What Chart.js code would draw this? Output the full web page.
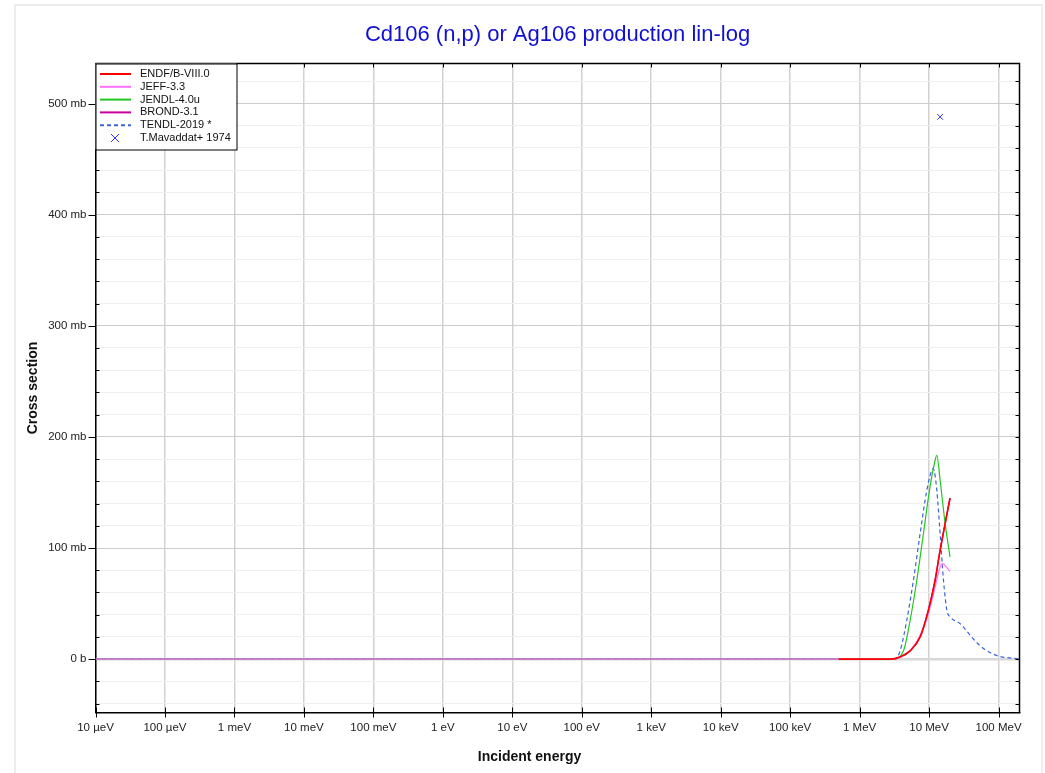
<!DOCTYPE html>
<html lang="en">
<head>
<meta charset="UTF-8">
<title>Cd106 (n,p) or Ag106 production lin-log</title>
<script src="https://cdn.jsdelivr.net/npm/chart.js@4.4.0/dist/chart.umd.min.js"></script>
<style>body{margin:0;background:#fff}</style>
</head>
<body>
<canvas id="myChart" width="1045" height="773"></canvas>
<script>
// energies in eV, cross sections in mb
const endfE = [5e5, 2.75e6, 3.82e6, 5.33e6, 7.42e6, 9.77e6, 12.2e6, 14.4e6, 17.0e6, 20e6];
const endfXs = [0, 0, 2, 7.5, 20, 44, 71, 98, 122, 145];

const jeffE = [1e-5, 3.0e6, 4.27e6, 5.94e6, 7.85e6, 9.77e6, 12.2e6, 14.4e6, 15.7e6, 17.6e6, 20e6];
const jeffXs = [0, 0, 3, 11, 24.6, 41, 65, 83, 86, 83, 79];

const jendlE = [1e-5, 3.0e6, 4.27e6, 5.33e6, 6.65e6, 8.28e6, 10.3e6, 12.2e6, 12.9e6, 14.4e6, 17.0e6, 20e6];
const jendlXs = [0, 0, 7.5, 35, 71, 113, 155, 179, 183.5, 161, 122, 92];

const brondE = [1e-5, 2.75e6, 3.82e6, 5.33e6, 7.42e6, 9.77e6, 12.2e6, 14.4e6, 17.0e6, 20e6];
const brondXs = [0, 0, 2, 7.5, 20, 44, 71, 98, 122, 145];

const tendlE = [1e-5, 3.24e6, 3.82e6, 4.77e6, 5.94e6, 7.42e6, 9.27e6, 10.9e6, 11.5e6, 12.9e6, 14.4e6,
                16.1e6, 18.0e6, 20.1e6, 27.9e6, 31e6, 45e6, 60.5e6, 100e6, 150e6, 200e6];
const tendlXs = [0, 0, 7.5, 35, 71, 113, 152, 170, 171.5, 152, 113,
                 71, 44, 38, 32, 29, 17, 9.6, 2.7, 1, 0.3];

const expE = [14.4e6];
const expXs = [488];

const xTickValues = [1e-5, 1e-4, 1e-3, 1e-2, 1e-1, 1, 10, 100, 1e3, 1e4, 1e5, 1e6, 1e7, 1e8];
const xTickLabels = ['10 µeV', '100 µeV', '1 meV', '10 meV', '100 meV', '1 eV', '10 eV',
                     '100 eV', '1 keV', '10 keV', '100 keV', '1 MeV', '10 MeV', '100 MeV'];
const yTickValues = [0, 100, 200, 300, 400, 500];
const yTickLabels = ['0 b', '100 mb', '200 mb', '300 mb', '400 mb', '500 mb'];

const FONT = '"Liberation Sans", Arial, sans-serif';
Chart.defaults.font.family = FONT;

function pts(e, v) {
    return e.map((x, i) => ({x: x, y: v[i]}));
}

const series = [
    {label: 'ENDF/B-VIII.0', data: pts(endfE, endfXs), borderColor: '#ff0000', borderWidth: 1.6},
    {label: 'JEFF-3.3', data: pts(jeffE, jeffXs), borderColor: '#ff70ff', borderWidth: 1.2},
    {label: 'JENDL-4.0u', data: pts(jendlE, jendlXs), borderColor: '#22c822', borderWidth: 1.2},
    {label: 'BROND-3.1', data: pts(brondE, brondXs), borderColor: '#c8009c', borderWidth: 1.4},
    {label: 'TENDL-2019 *', data: pts(tendlE, tendlXs), borderColor: '#3c64dc', borderWidth: 1.2, borderDash: [4, 3]},
];

const datasets = series.map(s => Object.assign({
    pointRadius: 0,
    fill: false,
    cubicInterpolationMode: 'monotone'
}, s));

datasets.push({
    label: 'T.Mavaddat+ 1974',
    data: pts(expE, expXs),
    showLine: false,
    pointStyle: 'crossRot',
    pointRadius: 4,
    borderColor: '#3030ff',
    borderWidth: 1,
    backgroundColor: '#3030ff'
});

const decorations = {
    id: 'decorations',
    beforeDraw(chart) {
        const ctx = chart.ctx;
        ctx.save();
        ctx.fillStyle = '#fff';
        ctx.fillRect(0, 0, chart.width, chart.height);
        ctx.strokeStyle = '#ededed';
        ctx.lineWidth = 2;
        ctx.strokeRect(15, 5, 1027, 800);
        ctx.restore();
    },
    afterDraw(chart) {
        const ctx = chart.ctx;
        const a = chart.chartArea;
        const x = chart.scales.x, y = chart.scales.y;
        ctx.save();

        // frame top/right
        ctx.strokeStyle = '#000';
        ctx.lineWidth = 1.5;
        ctx.beginPath();
        ctx.moveTo(a.left, a.top); ctx.lineTo(a.right, a.top); ctx.lineTo(a.right, a.bottom);
        ctx.stroke();

        // tick marks
        ctx.lineWidth = 1;
        ctx.beginPath();
        for (let v = -40; v <= 520; v += 20) {
            const py = Math.round(y.getPixelForValue(v)) + 0.5;
            if (v % 100 === 0) {
                ctx.moveTo(a.left - 7, py); ctx.lineTo(a.left, py);
            } else {
                ctx.moveTo(a.left, py); ctx.lineTo(a.left + 4, py);
            }
            ctx.moveTo(a.right - 4, py); ctx.lineTo(a.right, py);
        }
        xTickValues.forEach(v => {
            const px = Math.round(x.getPixelForValue(v)) + 0.5;
            ctx.moveTo(px, a.bottom - 5); ctx.lineTo(px, a.bottom + 5);
            ctx.moveTo(px, a.top); ctx.lineTo(px, a.top + 4);
        });
        ctx.stroke();

        // title
        ctx.fillStyle = '#1010d0';
        ctx.font = '22px ' + FONT;
        ctx.textAlign = 'center';
        ctx.textBaseline = 'middle';
        ctx.fillText('Cd106 (n,p) or Ag106 production lin-log', (a.left + a.right) / 2, 35);

        // axis titles
        ctx.fillStyle = '#111';
        ctx.font = 'bold 14px ' + FONT;
        ctx.fillText('Incident energy', 529.5, 757);
        ctx.save();
        ctx.translate(33, (a.top + a.bottom) / 2);
        ctx.rotate(-Math.PI / 2);
        ctx.fillText('Cross section', 0, 0);
        ctx.restore();

        // legend
        const lx = a.left, ly = a.top, lw = 141, lh = 86;
        ctx.fillStyle = '#fff';
        ctx.fillRect(lx, ly, lw, lh);
        ctx.strokeStyle = '#000';
        ctx.lineWidth = 1;
        ctx.strokeRect(lx + 0.5, ly + 0.5, lw, lh);
        ctx.font = '11px ' + FONT;
        ctx.textAlign = 'left';
        chart.data.datasets.forEach((ds, i) => {
            const ry = 74 + i * 12.8;
            ctx.strokeStyle = ds.borderColor;
            if (ds.showLine === false) {
                ctx.lineWidth = 1;
                ctx.beginPath();
                ctx.moveTo(111, ry - 4); ctx.lineTo(119, ry + 4);
                ctx.moveTo(119, ry - 4); ctx.lineTo(111, ry + 4);
                ctx.stroke();
            } else {
                ctx.lineWidth = 2;
                ctx.setLineDash(ds.borderDash || []);
                ctx.beginPath();
                ctx.moveTo(100, ry); ctx.lineTo(131, ry);
                ctx.stroke();
                ctx.setLineDash([]);
            }
            ctx.fillStyle = '#111';
            ctx.fillText(ds.label, 140, ry);
        });
        ctx.restore();
    }
};

const ctx = document.getElementById('myChart').getContext('2d');
const myChart = new Chart(ctx, {
    type: 'line',
    data: {datasets: datasets},
    plugins: [decorations],
    options: {
        responsive: false,
        animation: false,
        layout: {padding: {top: 63.5, right: 25.5, left: 0, bottom: 0}},
        plugins: {legend: {display: false}, tooltip: {enabled: false}},
        scales: {
            x: {
                type: 'logarithmic',
                min: 1e-5,
                max: 2e8,
                afterBuildTicks: s => { s.ticks = xTickValues.map(v => ({value: v})); },
                afterFit: s => { s.height = 60.5; },
                ticks: {
                    autoSkip: false,
                    maxRotation: 0,
                    padding: 8,
                    color: '#222',
                    font: {size: 11.5},
                    callback: (v) => {
                        const i = xTickValues.findIndex(t => Math.abs(Math.log10(t) - Math.log10(v)) < 1e-6);
                        return i >= 0 ? xTickLabels[i] : '';
                    }
                },
                grid: {color: '#d2d2d2', lineWidth: 1.5, drawTicks: false},
                border: {display: true, color: '#000', width: 1.5}
            },
            y: {
                type: 'linear',
                min: -48,
                max: 536,
                afterBuildTicks: s => {
                    const t = [];
                    for (let v = -40; v <= 520; v += 20) t.push({value: v});
                    s.ticks = t;
                },
                afterFit: s => { s.width = 95.5; },
                ticks: {
                    autoSkip: false,
                    padding: 9,
                    color: '#222',
                    font: {size: 11.5},
                    callback: (v) => {
                        const i = yTickValues.indexOf(v);
                        return i >= 0 ? yTickLabels[i] : '';
                    }
                },
                grid: {
                    drawTicks: false,
                    color: c => c.tick.value === 0 ? '#d8d8d8' : (c.tick.value % 100 === 0 ? '#cdcdcd' : '#efefef'),
                    lineWidth: c => c.tick.value === 0 ? 2.5 : 1
                },
                border: {display: true, color: '#000', width: 1.5}
            }
        }
    }
});
</script>
</body>
</html>
